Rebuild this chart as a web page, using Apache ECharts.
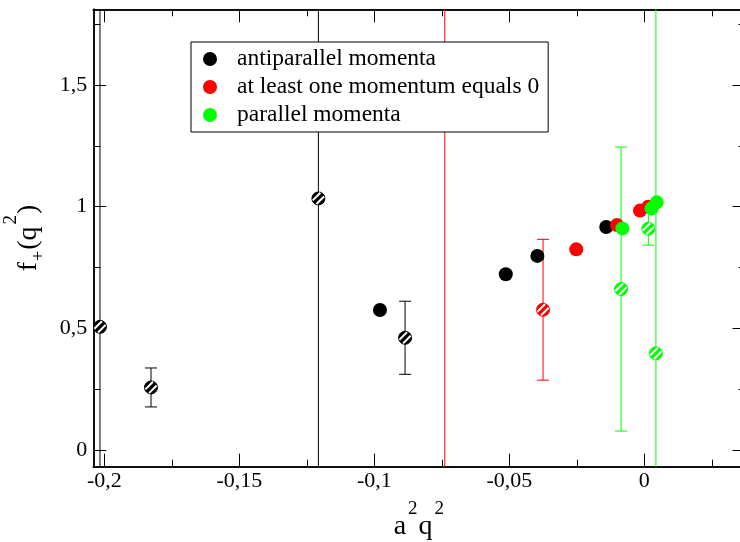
<!DOCTYPE html>
<html>
<head>
<meta charset="utf-8">
<script src="https://cdn.jsdelivr.net/npm/echarts@6/dist/echarts.min.js"></script>
<style>
  html, body { margin: 0; padding: 0; background: #fff; }
  #chart { width: 740px; height: 542px; }
</style>
</head>
<body>
<div id="chart"></div>
<script>
// ---- data: f+(q^2) against a^2 q^2 ----
// antiparallel momenta (filled circles)
const antiX = [-0.0979, -0.0513, -0.0396, -0.0141];
const antiY = [0.576, 0.7225, 0.798, 0.917];
// antiparallel momenta (hatched circles with error bars)
const antiHX = [-0.2016, -0.1827, -0.1207, -0.0886];
const antiHY = [0.507, 0.258, 1.034, 0.462];
const antiHErr = [3.0, 0.080, 3.0, 0.150];
// at least one momentum equals 0 (filled)
const zeroX = [-0.0252, -0.0101, -0.0016, 0.0015];
const zeroY = [0.825, 0.925, 0.984, 1.000];
// at least one momentum equals 0 (hatched, error bars)
const zeroHX = [-0.0739, -0.0375];
const zeroHY = [2.30, 0.577];
const zeroHErr = [3.0, 0.289];
// parallel momenta (filled)
const parX = [-0.0081, 0.0027, 0.0046];
const parY = [0.911, 0.993, 1.018];
// parallel momenta (hatched, error bars)
const parHX = [-0.0086, 0.0015, 0.0043];
const parHY = [0.662, 0.910, 0.398];
const parHErr = [0.583, 0.068, 3.0];

// axis ticks and labels
const xMajor = [-0.2, -0.15, -0.1, -0.05, 0];
const xMajorLabels = ['-0,2', '-0,15', '-0,1', '-0,05', '0'];
const xMinor = [-0.175, -0.125, -0.075, -0.025, 0.025];
const yMajor = [0, 0.5, 1, 1.5];
const yMajorLabels = ['0', '0,5', '1', '1,5'];
const yMinor = [0.25, 0.75, 1.25, 1.75];

const X_MIN = -0.20407, X_MAX = 0.03748;
const Y_MIN = -0.0673, Y_MAX = 1.8104;

const names = ['antiparallel momenta', 'at least one momentum equals 0', 'parallel momenta'];
const colors = ['#000000', '#ff0000', '#00ff00'];

const FONT = 'Liberation Serif';

function pickLabel(values, labels) {
  return function (v) {
    for (let i = 0; i < values.length; i++) {
      if (Math.abs(values[i] - v) < 1e-9) return labels[i];
    }
    return '';
  };
}

const titleRich = {
  b: { fontSize: 28, fontFamily: FONT, color: '#000', lineHeight: 28, padding: [14, 0, 6, 0], verticalAlign: 'top' },
  sup: { fontSize: 19, fontFamily: FONT, color: '#000', lineHeight: 19, padding: [1, 1, 0, 2], verticalAlign: 'top' },
  sub: { fontSize: 18, fontFamily: FONT, color: '#000', lineHeight: 18, padding: [29, 1, 0, 1], verticalAlign: 'top' }
};

const lineBlack = { color: '#000', width: 1.5 };
const tickBlack = { color: '#000', width: 1 };

function xAxisDef(position, ticks, len, withLabels) {
  const a = {
    type: 'value', gridIndex: 0, position: position, min: X_MIN, max: X_MAX,
    axisLine: { show: true, onZero: false, lineStyle: lineBlack },
    axisTick: { show: true, inside: true, length: len, customValues: ticks, lineStyle: tickBlack },
    axisLabel: { show: false },
    splitLine: { show: false }
  };
  if (withLabels) {
    a.axisLabel = {
      show: true, customValues: ticks, formatter: pickLabel(xMajor, xMajorLabels),
      fontFamily: FONT, fontSize: 22, color: '#000', margin: 4
    };
    a.name = '{b|a}{sup|2}{b|q}{sup|2}';
    a.nameLocation = 'middle';
    a.nameGap = 32;
    a.nameTextStyle = { fontFamily: FONT, rich: titleRich };
  }
  return a;
}

function yAxisDef(position, ticks, len, withLabels) {
  const a = {
    type: 'value', gridIndex: 0, position: position, min: Y_MIN, max: Y_MAX,
    axisLine: { show: true, onZero: false, lineStyle: lineBlack },
    axisTick: { show: true, inside: true, length: len, customValues: ticks, lineStyle: tickBlack },
    axisLabel: { show: false },
    splitLine: { show: false }
  };
  if (withLabels) {
    a.axisLabel = {
      show: true, customValues: ticks, formatter: pickLabel(yMajor, yMajorLabels),
      fontFamily: FONT, fontSize: 22, color: '#000', margin: 6
    };
    a.name = '{b|f}{sub|+}{b|(q}{sup|2}{b|)}';
    a.nameLocation = 'middle';
    a.nameGap = 36;
    a.nameTextStyle = { fontFamily: FONT, rich: titleRich };
  }
  return a;
}

function solidSeries(i, xs, ys) {
  return {
    type: 'scatter', name: names[i], xAxisIndex: 0, yAxisIndex: 0,
    data: xs.map((x, k) => [x, ys[k]]),
    symbol: 'circle', symbolSize: 14,
    itemStyle: { color: colors[i], opacity: 1 },
    emphasis: { disabled: true },
    clip: true, silent: true
  };
}

// hatched circle with a vertical error bar, positioned through the axes
function hatchedSeries(i, xs, ys, errs) {
  const color = colors[i];
  return {
    type: 'custom', name: names[i], xAxisIndex: 0, yAxisIndex: 0,
    data: xs.map((x, k) => [x, ys[k], errs[k]]),
    encode: { x: 0, y: 1 },
    clip: true, silent: true,
    renderItem: function (params, api) {
      const x = api.value(0), y = api.value(1), e = api.value(2);
      const c = api.coord([x, y]);
      const hi = api.coord([x, y + e]);
      const lo = api.coord([x, y - e]);
      const cap = 6, r = 6.5;
      const children = [
        { type: 'line', shape: { x1: c[0], y1: hi[1], x2: c[0], y2: lo[1] }, style: { stroke: color, lineWidth: 1 } },
        { type: 'line', shape: { x1: c[0] - cap, y1: hi[1], x2: c[0] + cap, y2: hi[1] }, style: { stroke: color, lineWidth: 1 } },
        { type: 'line', shape: { x1: c[0] - cap, y1: lo[1], x2: c[0] + cap, y2: lo[1] }, style: { stroke: color, lineWidth: 1 } },
        { type: 'circle', shape: { cx: c[0], cy: c[1], r: r }, style: { fill: color, stroke: color, lineWidth: 1 } }
      ];
      // two white diagonal stripes ("/") inside the disc
      const u = [Math.SQRT1_2, -Math.SQRT1_2];
      const n = [Math.SQRT1_2, Math.SQRT1_2];
      [-2.6, 2.6].forEach(function (d) {
        const half = Math.sqrt(r * r - d * d) - 0.6;
        const mx = c[0] + n[0] * d, my = c[1] + n[1] * d;
        children.push({
          type: 'line',
          shape: { x1: mx - u[0] * half, y1: my - u[1] * half, x2: mx + u[0] * half, y2: my + u[1] * half },
          style: { stroke: '#fff', lineWidth: 2, lineCap: 'butt' }
        });
      });
      return { type: 'group', children: children };
    }
  };
}

const chart = echarts.init(document.getElementById('chart'), null, { renderer: 'canvas' });
chart.setOption({
  animation: false,
  backgroundColor: '#fff',
  textStyle: { fontFamily: FONT },
  grid: { left: 93.3, right: -5.5, top: 9.3, bottom: 75.3, containLabel: false, outerBoundsMode: 'none' },
  legend: {
    data: names,
    orient: 'vertical', left: 191, top: 42,
    backgroundColor: '#fff', borderColor: '#000', borderWidth: 1,
    padding: [5, 9, 5, 12],
    itemWidth: 14, itemHeight: 14, itemGap: 4, icon: 'circle',
    selectedMode: false,
    textStyle: { fontFamily: FONT, fontSize: 23.5, color: '#000', padding: [0, 0, 0, 15] }
  },
  xAxis: [
    xAxisDef('bottom', xMajor, 13, true),
    xAxisDef('bottom', xMinor, 7, false),
    xAxisDef('top', xMajor, 13, false),
    xAxisDef('top', xMinor, 7, false)
  ],
  yAxis: [
    yAxisDef('left', yMajor, 13, true),
    yAxisDef('left', yMinor, 7, false),
    yAxisDef('right', yMajor, 13, false),
    yAxisDef('right', yMinor, 7, false)
  ],
  series: [
    solidSeries(0, antiX, antiY),
    hatchedSeries(0, antiHX, antiHY, antiHErr),
    solidSeries(1, zeroX, zeroY),
    hatchedSeries(1, zeroHX, zeroHY, zeroHErr),
    solidSeries(2, parX, parY),
    hatchedSeries(2, parHX, parHY, parHErr)
  ]
});
</script>
</body>
</html>
